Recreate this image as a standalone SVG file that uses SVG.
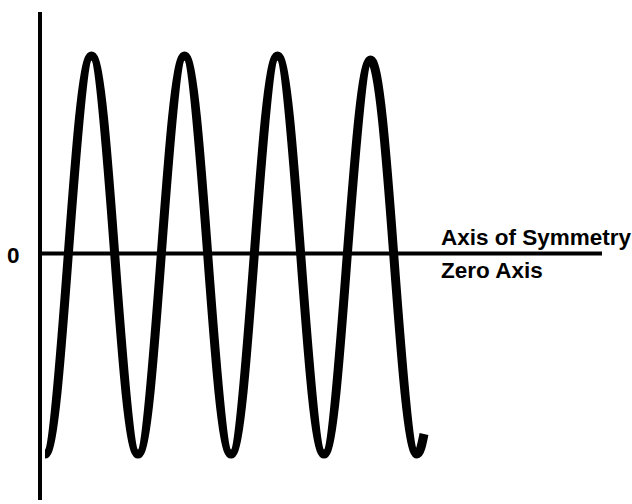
<svg xmlns="http://www.w3.org/2000/svg" width="632" height="504" viewBox="0 0 632 504">
<style>
.axis{stroke:#000;stroke-width:4;fill:none}
.wave{stroke:#000;stroke-width:9;fill:none;stroke-linejoin:round}
.lbl{font-family:"Liberation Sans",Arial,sans-serif;font-weight:bold;font-size:22.5px;fill:#000}
</style>
<rect width="632" height="504" fill="#fff"/>
<g id="axes">
<line class="axis" x1="40" y1="12" x2="40" y2="500"/>
<line class="axis" x1="40" y1="253.5" x2="602" y2="253.5"/>
</g>
<g id="wave">
<path class="wave" d="M45,454 c8.42,0 15.67,-97.1 23.25,-199 c7.58,-101.9 14.83,-199 23.25,-199 c8.42,0 15.67,97.1 23.25,199 c7.58,101.9 14.83,199 23.25,199
c8.42,0 15.67,-97.1 23.25,-199 c7.58,-101.9 14.83,-199 23.25,-199 c8.42,0 15.67,97.1 23.25,199 c7.58,101.9 14.83,199 23.25,199
c8.42,0 15.67,-97.1 23.25,-199 c7.58,-101.9 14.83,-199 23.25,-199 c8.42,0 15.67,97.1 23.25,199 c7.58,101.9 14.83,199 23.25,199
c8.42,0 15.67,-97.1 23.25,-199 c7.58,-97.1 14.83,-195 23.25,-195 c8.42,0 15.67,93 23.25,195 c7.58,101.9 14.83,199 23.25,199
c3,0 5,-10 7,-20"/>
</g>
<g id="labels">
<text class="lbl" x="7" y="263">0</text>
<text class="lbl" x="441" y="245">Axis of Symmetry</text>
<text class="lbl" x="441" y="278">Zero Axis</text>
</g>
</svg>
